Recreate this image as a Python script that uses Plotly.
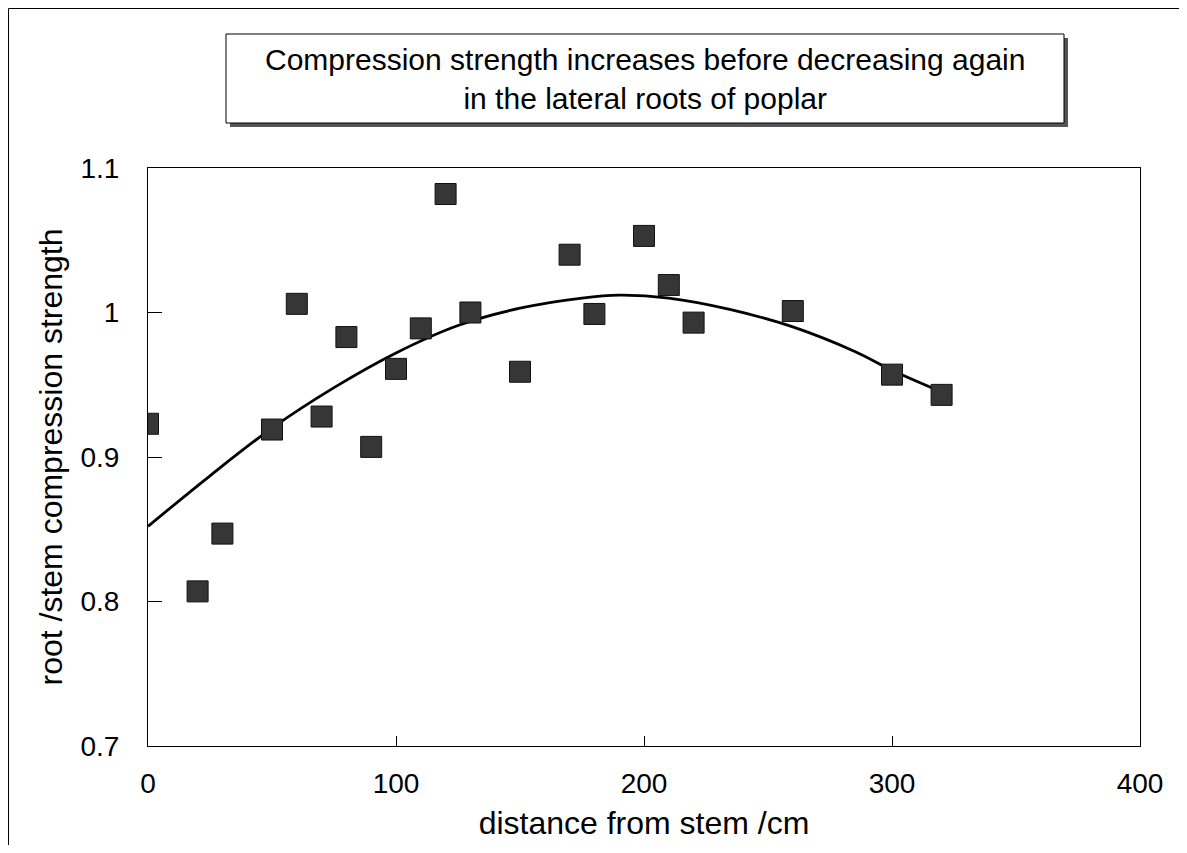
import plotly.graph_objects as go

# Measured data points (distance from stem /cm, root/stem compression strength)
distance_cm = [0, 20, 30, 50, 60, 70, 80, 90, 100, 110, 120, 130, 150, 170, 180, 200, 210, 220, 260, 300, 320]
strength_ratio = [0.923, 0.807, 0.847, 0.919, 1.006, 0.928, 0.983, 0.907, 0.961, 0.989, 1.082, 1.000,
                  0.959, 1.040, 0.999, 1.053, 1.019, 0.993, 1.001, 0.957, 0.943]

# Trend line
trend_x = [0, 25, 50, 75, 100, 125, 150, 175, 190, 210, 235, 260, 285, 300, 320]
trend_y = [0.852, 0.887, 0.920, 0.948, 0.972, 0.991, 1.003, 1.010, 1.012, 1.010, 1.002, 0.990, 0.973, 0.960, 0.945]

x_ticks = [0, 100, 200, 300, 400]
y_ticks = [0.7, 0.8, 0.9, 1.0, 1.1]
y_tick_labels = ["0.7", "0.8", "0.9", "1", "1.1"]

title_lines = ["Compression strength increases before decreasing again",
               "in the lateral roots of poplar"]
x_title = "distance from stem /cm"
y_title = "root /stem compression strength"

FONT = "Liberation Sans, Arial, sans-serif"
OFF = 8  # page body margin
W, H = 1187 - 2 * OFF, 853 - 2 * OFF
# plot area in page pixels: x 148..1140, y 168..746
L, T = 148 - OFF, 168 - OFF
R, B = W - (1140 - OFF), H - (746 - OFF)
pw, ph = W - L - R, H - T - B


def px(xp):
    return (xp - OFF - L) / pw


def py(yp):
    return (H - B - (yp - OFF)) / ph


fig = go.Figure()
fig.add_trace(go.Scatter(x=trend_x, y=trend_y, mode="lines", line=dict(color="black", width=2.8, shape="spline"),
                         showlegend=False, hoverinfo="skip"))
fig.add_trace(go.Scatter(x=distance_cm, y=strength_ratio, mode="markers",
                         marker=dict(symbol="square", size=21, color="#363636", line=dict(color="#111", width=1)),
                         showlegend=False))

shapes = [
    # outer chart frame
    dict(type="rect", xref="paper", yref="paper", x0=px(8.5), x1=px(1181), y0=py(846), y1=py(8.5),
         line=dict(color="black", width=1), fillcolor="rgba(0,0,0,0)", layer="below"),
    # title shadow
    dict(type="rect", xref="paper", yref="paper", x0=px(230), x1=px(1068), y0=py(127), y1=py(38),
         line=dict(width=0), fillcolor="#555555", layer="below"),
    # title box
    dict(type="rect", xref="paper", yref="paper", x0=px(226), x1=px(1064), y0=py(123), y1=py(34),
         line=dict(color="black", width=1), fillcolor="white", layer="below"),
]

annotations = [
    dict(xref="paper", yref="paper", x=px(645), y=py(79), text="<br>".join(title_lines), showarrow=False,
         font=dict(family=FONT, size=30, color="black"), align="center", xanchor="center", yanchor="middle"),
]

fig.update_layout(
    width=W, height=H,
    margin=dict(l=L, r=R, t=T, b=B, autoexpand=False),
    paper_bgcolor="white", plot_bgcolor="white",
    font=dict(family=FONT, color="black"),
    shapes=shapes, annotations=annotations,
    xaxis=dict(range=[0, 400], tickvals=x_ticks, ticks="inside", ticklen=10, tickcolor="black",
               showline=True, linecolor="black", linewidth=1, mirror=True, showgrid=False, zeroline=False,
               tickfont=dict(size=28, family=FONT), ticklabelstandoff=12,
               title=dict(text=x_title, font=dict(size=32, family=FONT), standoff=14)),
    yaxis=dict(range=[0.7, 1.1], tickvals=y_ticks, ticktext=y_tick_labels, ticks="inside", ticklen=14,
               tickcolor="black", showline=True, linecolor="black", linewidth=1, mirror=True,
               showgrid=False, zeroline=False, tickfont=dict(size=28, family=FONT), ticklabelstandoff=22,
               title=dict(text=y_title, font=dict(size=32, family=FONT), standoff=8)),
)

fig.write_html("out.html")
